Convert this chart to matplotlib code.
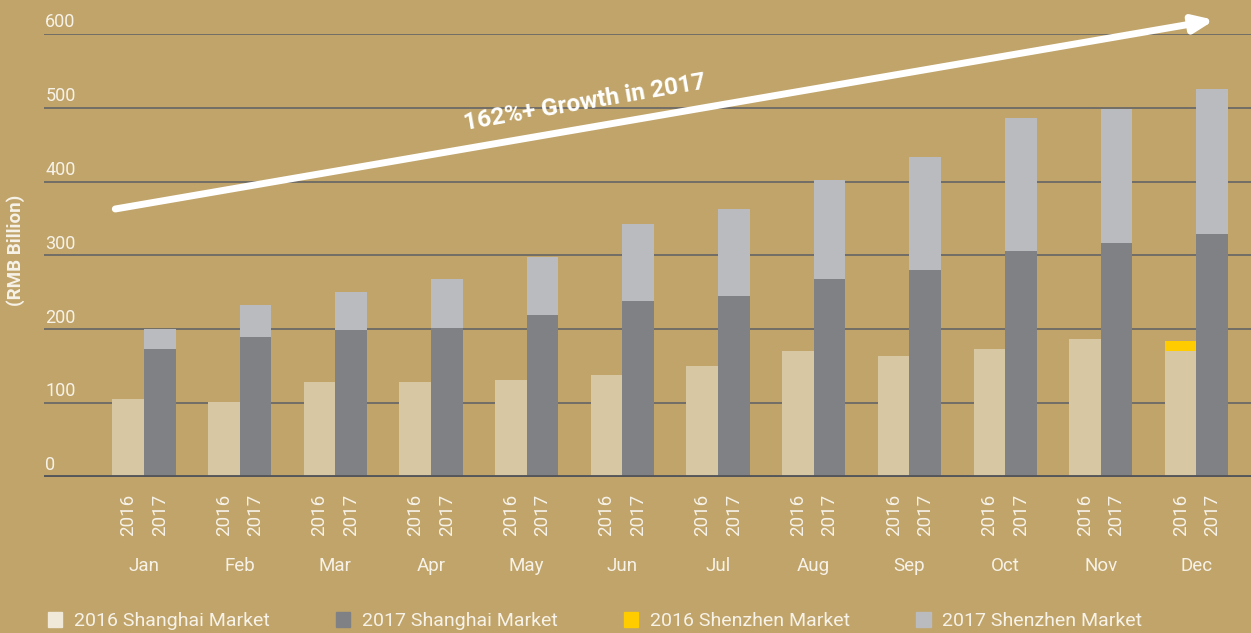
import numpy as np
import matplotlib.pyplot as plt
from matplotlib.patches import Patch

plt.rcParams['font.family'] = ['Roboto', 'DejaVu Sans']

# =========== data =========
months = ['Jan', 'Feb', 'Mar', 'Apr', 'May', 'Jun',
          'Jul', 'Aug', 'Sep', 'Oct', 'Nov', 'Dec']
years = ['2016', '2017']
sh_2016 = [106, 102, 129, 129, 131, 138, 150, 171, 164, 173, 187, 171]
sz_2016 = [0, 0, 0, 0, 0, 0, 0, 0, 0, 0, 0, 13]
sh_2017 = [173, 190, 199, 202, 220, 238, 245, 268, 280, 306, 317, 329]
sz_2017 = [27, 43, 52, 66, 78, 105, 118, 134, 154, 180, 182, 197]
yticks = [0, 100, 200, 300, 400, 500, 600]
labels = ['2016 Shanghai Market', '2017 Shanghai Market',
          '2016 Shenzhen Market', '2017 Shenzhen Market']
# ==========================

bg = '#C0A46A'
c_sh16 = '#D8C7A3'
c_sh17 = '#808185'
c_sz16 = '#FFCC00'
c_sz17 = '#B9BBBF'
txt = '#F7F2E8'

fig = plt.figure(figsize=(12.51, 6.33), dpi=100, facecolor=bg)
ax = fig.add_axes([44/1251, (633-477)/633, 1-44/1251, (477-34)/633])
ax.set_facecolor(bg)

x = np.arange(len(months))
w = 0.33
ax.bar(x - w/2, sh_2016, w, color=c_sh16, zorder=3)
ax.bar(x - w/2, sz_2016, w, bottom=sh_2016, color=c_sz16, zorder=3)
ax.bar(x + w/2, sh_2017, w, color=c_sh17, zorder=3)
ax.bar(x + w/2, sz_2017, w, bottom=sh_2017, color=c_sz17, zorder=3)

ax.set_xlim(-1.045, 11.57)
ax.set_ylim(0, 600)
for s in ax.spines.values():
    s.set_visible(False)
for v in yticks:
    if v > 0:
        ax.axhline(v, color='#5E6066', lw=1.1, zorder=1)
    ax.text(0.001, v + 16, str(v), transform=ax.get_yaxis_transform(),
            color=txt, fontsize=13, va='center', ha='left')
ax.axhline(0, color='#55565A', lw=2.8, zorder=4)

ax.set_yticks([])
pos = np.concatenate([x - w/2, x + w/2])
ax.set_xticks(pos)
ax.set_xticklabels([years[0]] * 12 + [years[1]] * 12, rotation=90,
                   color=txt, fontsize=13.5)
ax.tick_params(axis='x', length=0, pad=12)
for i, m in enumerate(months):
    ax.text(i, -0.2, m, transform=ax.get_xaxis_transform(),
            color=txt, fontsize=13.5, ha='center', va='center')

fig.text(16/1251, 1 - 250/633, '(RMB Billion)', rotation=90, color=txt,
         fontsize=13.5, fontweight='bold', ha='center', va='center')

# growth arrow
ax.annotate('', xy=(11.19, 619), xytext=(-0.30, 363),
            arrowprops=dict(arrowstyle='-|>,head_length=1.2,head_width=0.5',
                            color='white', lw=5, shrinkA=0, shrinkB=0),
            annotation_clip=False, zorder=6)
ax.text(4.61, 507, '162%+ Growth in 2017', rotation=9.8, color='white',
        fontsize=17.5, fontweight='bold', ha='center', va='center',
        rotation_mode='anchor', zorder=6)

handles = [Patch(color='#F0E8D8'), Patch(color=c_sh17),
           Patch(color=c_sz16), Patch(color=c_sz17)]
leg = fig.legend(handles, labels, loc='center left', ncol=4,
                 bbox_to_anchor=(30/1251, 1 - 621/633), frameon=False,
                 fontsize=14, handlelength=0.75, handleheight=0.85,
                 handletextpad=0.6, columnspacing=3.4)
for t in leg.get_texts():
    t.set_color(txt)

fig.savefig('out.png', dpi=100, facecolor=bg)
